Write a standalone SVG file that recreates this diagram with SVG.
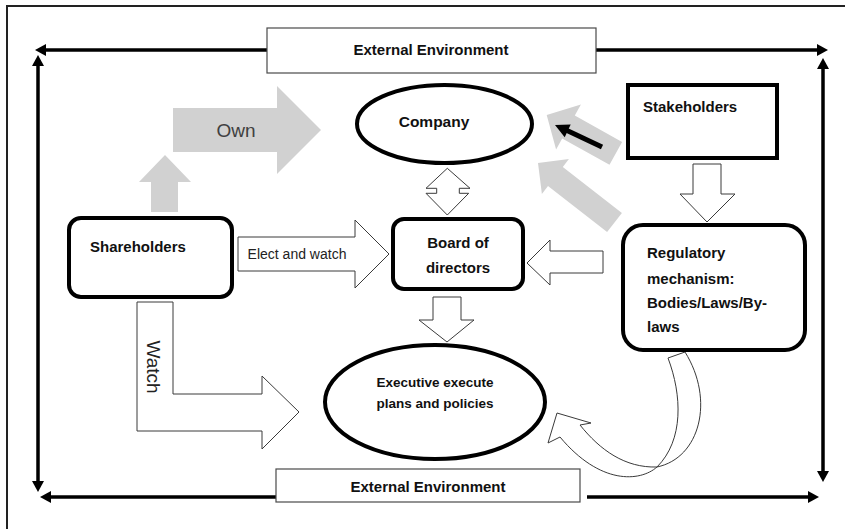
<svg xmlns="http://www.w3.org/2000/svg" width="845" height="529" viewBox="0 0 845 529">
<style>
.frame{fill:none;stroke:#222;stroke-width:2}
.env{fill:none;stroke:#000;stroke-width:3.5}
.thin{fill:#fff;stroke:#3a3a3a;stroke-width:1}
.gray{fill:#d1d1d1;stroke:none}
.box{fill:#fff;stroke:#000;stroke-width:4}
.envbox{fill:#fff;stroke:#4a4a4a;stroke-width:1.2}
.b{font-family:"Liberation Sans",Arial,sans-serif;font-weight:bold;font-size:15px;fill:#111}
.r{font-family:"Liberation Sans",Arial,sans-serif;font-size:14px;fill:#222}
</style>
<defs>
<marker id="ah" markerUnits="userSpaceOnUse" markerWidth="12" markerHeight="12" viewBox="0 0 12 12" refX="2" refY="6" orient="auto-start-reverse">
<path d="M0,0 L11,6 L0,12 Z" fill="#000"/>
</marker>
</defs>
<rect width="845" height="529" fill="#fff"/>
<path class="frame" d="M7,529 V6 H845"/>

<g id="connectors">
<line class="env" x1="267" y1="50" x2="44" y2="50" marker-end="url(#ah)"/>
<line class="env" x1="596" y1="50" x2="819" y2="50" marker-end="url(#ah)"/>
<line class="env" x1="38" y1="64" x2="38" y2="483" marker-start="url(#ah)" marker-end="url(#ah)"/>
<line class="env" x1="823" y1="67" x2="823" y2="473" marker-start="url(#ah)" marker-end="url(#ah)"/>
<line class="env" x1="276" y1="497" x2="49" y2="497" marker-end="url(#ah)"/>
<line class="env" x1="587" y1="497" x2="810" y2="497" marker-end="url(#ah)"/>

<polygon class="gray" points="173,108 277,108 277,86 321,130 277,174 277,152 173,152"/>
<text x="236" y="137" text-anchor="middle" style="font-family:'Liberation Sans',Arial,sans-serif;font-size:19px;fill:#404040">Own</text>
<polygon class="gray" points="151,212 151,182 139,182 165,155 191,182 178,182 178,212"/>
<polygon class="gray" points="546.7,115 580.9,104.5 574.8,115.6 622.1,141.9 609.5,164.7 562.2,138.4 556.1,149.5"/>
<polygon class="gray" points="538,163 568.9,159.1 562.8,167 621.9,213 607.1,232 548,186 541.9,193.9"/>
<line x1="602" y1="147" x2="566" y2="130" stroke="#000" stroke-width="5"/>
<polygon points="555,125 570.7,124.6 564.7,137.2" fill="#000"/>

<polygon class="thin" points="447.3,168.3 470,188.3 459.3,188.3 459.3,193.3 468.7,193.3 447.3,215 426,193.3 436.7,193.3 436.7,188.3 426,188.3"/>
<polygon class="thin" points="238,237 355,237 355,220 389,254 355,288 355,271 238,271"/>
<text class="r" x="297" y="259" text-anchor="middle">Elect and watch</text>
<polygon class="thin" points="603,251 550,251 550,240 527,263 550,285 550,273 603,273"/>
<polygon class="thin" points="693,164 721,164 721,194 735,194 707,222 680,194 693,194"/>
<polygon class="thin" points="433,297 461,297 461,320 474,320 447,342 419,320 433,320"/>
<polygon class="thin" points="137,302 173,302 173,394 262,394 262,376 299,412 262,449 262,431 137,431"/>
<text transform="translate(147,367) rotate(90)" text-anchor="middle" style="font-family:'Liberation Sans',Arial,sans-serif;font-size:19px;fill:#222">Watch</text>
<path class="thin" d="M668,358 C682,395 684,440 657,467 C640,482 600,485 560,437 L548,443 L557,413 L591,423 L580,425 C600,450 625,468 657,467 C700,458 715,400 685,352 Z"/>
</g>

<g id="env-top">
<rect class="envbox" x="267" y="28" width="329" height="45"/>
<text class="b" x="431" y="55" text-anchor="middle">External Environment</text>
</g>
<g id="env-bottom">
<rect class="envbox" x="276" y="469" width="304" height="33"/>
<text class="b" x="428" y="492" text-anchor="middle">External Environment</text>
</g>
<g id="company">
<ellipse class="box" cx="444.5" cy="124" rx="87.5" ry="39"/>
<text class="b" x="434" y="127" text-anchor="middle" style="font-size:15.5px">Company</text>
</g>
<g id="stakeholders">
<rect class="box" x="628" y="85" width="149" height="73"/>
<text class="b" x="643" y="112">Stakeholders</text>
</g>
<g id="shareholders">
<rect class="box" x="69" y="218" width="163" height="79" rx="12"/>
<text class="b" x="90" y="252">Shareholders</text>
</g>
<g id="board">
<rect class="box" x="393" y="219" width="130" height="70" rx="11"/>
<text class="b" x="458" y="248" text-anchor="middle">Board of</text>
<text class="b" x="458" y="273" text-anchor="middle">directors</text>
</g>
<g id="regulatory">
<rect class="box" x="623" y="225" width="182" height="125" rx="20"/>
<text class="b" x="647" y="258">Regulatory</text>
<text class="b" x="647" y="284">mechanism:</text>
<text class="b" x="647" y="308">Bodies/Laws/By-</text>
<text class="b" x="647" y="332">laws</text>
</g>
<g id="executive">
<ellipse class="box" cx="435" cy="402" rx="110" ry="57"/>
<text class="b" x="435" y="387" text-anchor="middle" style="font-size:13.5px">Executive execute</text>
<text class="b" x="435" y="408" text-anchor="middle" style="font-size:13.5px">plans and policies</text>
</g>
</svg>
